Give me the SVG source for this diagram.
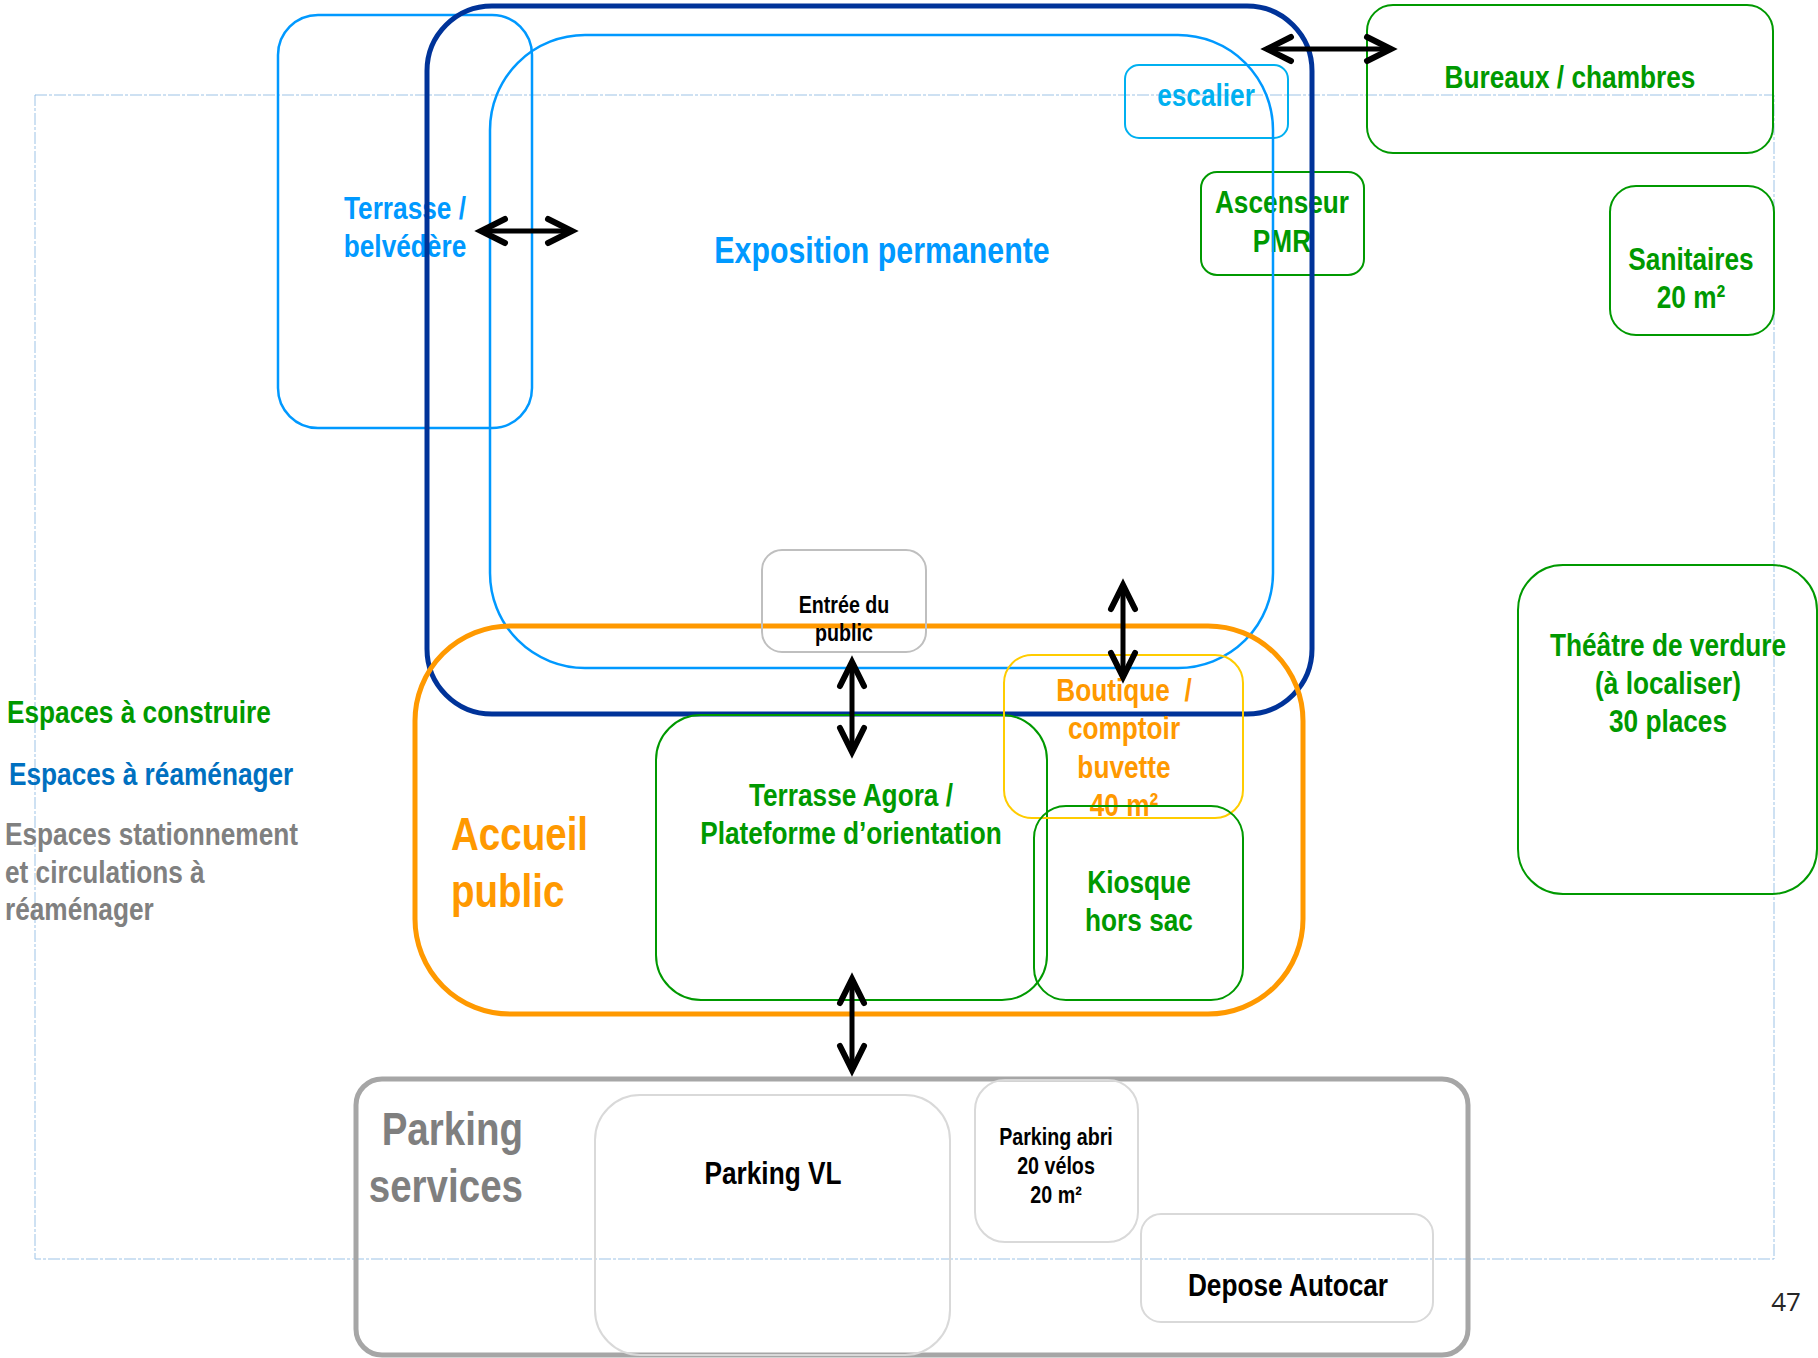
<svg xmlns="http://www.w3.org/2000/svg" width="1818" height="1358" viewBox="0 0 1818 1358">
  <style>
    text { font-family: "Liberation Sans Narrow", "Arial Narrow", "Liberation Sans", sans-serif; font-weight: bold; font-size: 32px;
           transform-box: fill-box; transform-origin: center; transform: scaleX(0.82); }
    .s { transform-origin: left center; }
    .e { transform-origin: right center; text-anchor: end; }
    .c { text-anchor: middle; }
    .box { fill: none; }
    .lb { stroke: #0099FF; stroke-width: 2.5; }
    .cy { stroke: #00B0F0; stroke-width: 2; }
    .gr { stroke: #009900; stroke-width: 2; }
    .gy { stroke: #D9D9D9; stroke-width: 2; }
    .t-lb { fill: #0099FF; }
    .t-cy { fill: #00B0F0; }
    .t-gr { fill: #009900; }
    .t-or { fill: #FF9900; }
    .t-bk { fill: #000000; }
    .t-gy { fill: #808080; }
    .big { font-size: 47px; }
    .sm { font-size: 24px; }
    .arrow { stroke: #000; stroke-width: 5; fill: none; marker-start: url(#chev); marker-end: url(#chev); }
    .pageno { font-family: "Open Sans", "Liberation Sans", sans-serif; font-weight: normal; font-size: 26px; text-anchor: middle; transform: none; }
  </style>
  <defs>
    <marker id="chev" viewBox="-30 -18 40 36" markerWidth="40" markerHeight="36" refX="0" refY="0" orient="auto-start-reverse" markerUnits="userSpaceOnUse">
      <path d="M-24,-12 L0,0 L-24,12" fill="none" stroke="#000" stroke-width="6" stroke-linecap="round"/>
    </marker>
  </defs>

  <rect width="1818" height="1358" fill="#FFFFFF"/>

  <!-- page frame -->
  <rect x="35" y="95" width="1739" height="1164" fill="none" stroke="#9DC3E6" stroke-width="1" stroke-dasharray="12 2 3 2"/>

  <!-- legend -->
  <g id="legend">
    <text x="7" y="723" class="s t-gr">Espaces à construire</text>
    <text x="9" y="785" class="s" fill="#0070C0">Espaces à réaménager</text>
    <text x="5" y="845" class="s t-gy">Espaces stationnement</text>
    <text x="5" y="883" class="s t-gy">et circulations à</text>
    <text x="5" y="920" class="s t-gy">réaménager</text>
  </g>

  <g id="terrasse-belvedere">
    <rect class="box lb" x="278" y="15" width="254" height="413" rx="40"/>
    <text class="t-lb c" x="405" y="219">Terrasse /</text>
    <text class="t-lb c" x="405" y="257">belvédère</text>
  </g>

  <g id="escalier">
    <rect class="box cy" x="1125" y="65" width="163" height="73" rx="14"/>
    <text class="t-cy c" x="1206" y="106">escalier</text>
  </g>

  <g id="ascenseur">
    <rect class="box gr" x="1201" y="172" width="163" height="103" rx="16"/>
    <text class="t-gr c" x="1282" y="213">Ascenseur</text>
    <text class="t-gr c" x="1282" y="252">PMR</text>
  </g>

  <g id="bureaux">
    <rect class="box gr" x="1367" y="5" width="406" height="148" rx="26"/>
    <text class="t-gr c" x="1570" y="88">Bureaux / chambres</text>
  </g>

  <g id="sanitaires">
    <rect class="box gr" x="1610" y="186" width="164" height="149" rx="26"/>
    <text class="t-gr c" x="1691" y="270">Sanitaires</text>
    <text class="t-gr c" x="1691" y="308">20 m²</text>
  </g>

  <g id="theatre">
    <rect class="box gr" x="1518" y="565" width="299" height="329" rx="45"/>
    <text class="t-gr c" x="1668" y="656">Théâtre de verdure</text>
    <text class="t-gr c" x="1668" y="694">(à localiser)</text>
    <text class="t-gr c" x="1668" y="732">30 places</text>
  </g>

  <g id="exposition">
    <rect class="box lb" x="490" y="35" width="783" height="633" rx="95"/>
    <text class="t-lb c" x="882" y="263" style="font-size:37px">Exposition permanente</text>
  </g>

  <!-- outline of the spaces to refurbish -->
  <g id="zone-reamenager">
    <rect class="box" x="427" y="6" width="885" height="708" rx="65" stroke="#003399" stroke-width="5"/>
  </g>

  <g id="accueil">
    <rect class="box" x="415" y="626" width="888" height="388" rx="95" stroke="#FF9900" stroke-width="5"/>
    <text class="s t-or big" x="451" y="850">Accueil</text>
    <text class="s t-or big" x="451" y="907">public</text>
  </g>

  <g id="entree">
    <rect class="box" x="762" y="550" width="164" height="102" rx="20" stroke="#BFBFBF" stroke-width="2"/>
    <text class="t-bk c sm" x="844" y="613">Entrée du</text>
    <text class="t-bk c sm" x="844" y="641">public</text>
  </g>

  <g id="terrasse-agora">
    <rect class="box gr" x="656" y="715" width="391" height="285" rx="45"/>
    <text class="t-gr c" x="851" y="806">Terrasse Agora /</text>
    <text class="t-gr c" x="851" y="844">Plateforme d’orientation</text>
  </g>

  <g id="boutique">
    <rect class="box" x="1004" y="655" width="239" height="163" rx="28" stroke="#FFCC00" stroke-width="2"/>
    <text class="t-or c" x="1124" y="701" style="white-space:pre">Boutique  /</text>
    <text class="t-or c" x="1124" y="739">comptoir</text>
    <text class="t-or c" x="1124" y="778">buvette</text>
    <text class="t-or c" x="1124" y="816">40 m²</text>
  </g>

  <g id="kiosque">
    <rect class="box gr" x="1034" y="806" width="209" height="194" rx="32"/>
    <text class="t-gr c" x="1139" y="893">Kiosque</text>
    <text class="t-gr c" x="1139" y="931">hors sac</text>
  </g>

  <g id="parking-services">
    <rect class="box" x="356" y="1079" width="1112" height="276" rx="26" stroke="#A6A6A6" stroke-width="5"/>
    <text class="e big" x="523" y="1145" fill="#7F7F7F">Parking</text>
    <text class="e big" x="523" y="1202" fill="#7F7F7F">services</text>
  </g>

  <g id="parking-vl">
    <rect class="box gy" x="595" y="1095" width="355" height="260" rx="45"/>
    <text class="t-bk c" x="773" y="1184">Parking VL</text>
  </g>

  <g id="parking-abri">
    <rect class="box gy" x="975" y="1080" width="163" height="162" rx="30"/>
    <text class="t-bk c sm" x="1056" y="1145">Parking abri</text>
    <text class="t-bk c sm" x="1056" y="1174">20 vélos</text>
    <text class="t-bk c sm" x="1056" y="1203">20 m²</text>
  </g>

  <g id="depose-autocar">
    <rect class="box gy" x="1141" y="1214" width="292" height="108" rx="20"/>
    <text class="t-bk c" x="1288" y="1296">Depose Autocar</text>
  </g>

  <!-- connectors -->
  <g id="connectors">
    <path class="arrow" d="M481,231 L572,231"/>
    <path class="arrow" d="M1267,49 L1391,49"/>
    <path class="arrow" d="M852,662 L852,752"/>
    <path class="arrow" d="M1123,585 L1123,677"/>
    <path class="arrow" d="M852,979 L852,1070"/>
  </g>

  <text class="pageno" x="1786" y="1311" fill="#262626">47</text>
</svg>
